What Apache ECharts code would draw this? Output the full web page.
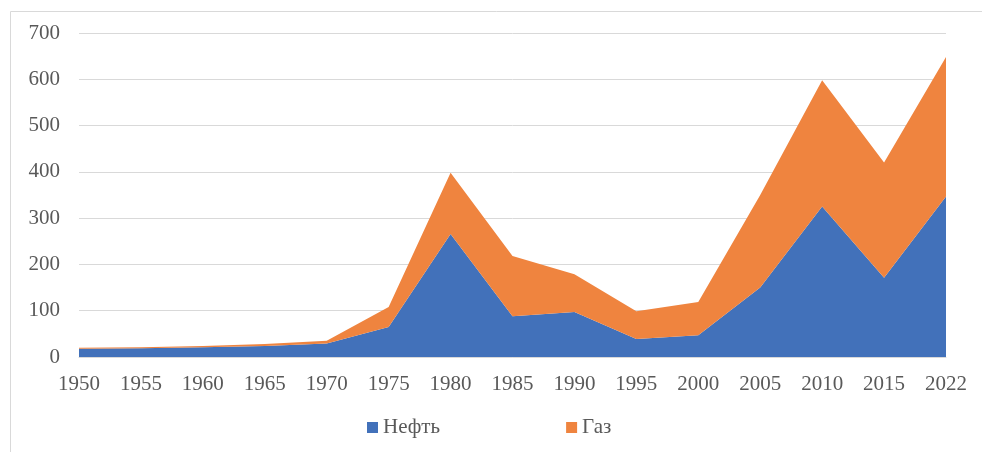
<!DOCTYPE html>
<html>
    <head>
        <meta charset="utf-8">
        <script src="https://cdn.jsdelivr.net/npm/echarts@6/dist/echarts.min.js"></script>
    </head>
    <body style="margin: 0">
        <div id="main" style="width: 982px; height: 452px"></div>
        <script>
            var years = ['1950', '1955', '1960', '1965', '1970', '1975', '1980', '1985',
                         '1990', '1995', '2000', '2005', '2010', '2015', '2022'];
            var oil = [18, 19, 21, 24, 29, 65, 266, 88, 97, 39, 47, 150, 325, 171, 347];
            var gas = [2, 2, 3, 4, 6, 43, 132, 130, 82, 60, 72, 200, 273, 249, 301];

            var font = '"Liberation Serif", "Times New Roman", serif';
            var myChart = echarts.init(document.getElementById('main'));

            var option = {
                animation: false,
                textStyle: { fontFamily: font },
                graphic: [{
                    type: 'rect',
                    shape: { x: 10.5, y: 11.5, width: 1000, height: 500 },
                    style: { fill: 'none', stroke: '#d9d9d9', lineWidth: 1 }
                }],
                grid: { left: 79, right: 36, top: 33, bottom: 95 },
                legend: {
                    left: 362,
                    top: 412,
                    icon: 'rect',
                    itemWidth: 11,
                    itemHeight: 11,
                    itemGap: 126,
                    textStyle: { fontFamily: font, fontSize: 21, color: '#595959' },
                    data: ['Нефть', 'Газ']
                },
                xAxis: {
                    type: 'category',
                    boundaryGap: false,
                    data: years,
                    axisLine: { lineStyle: { color: '#d9d9d9' } },
                    axisTick: { show: false },
                    axisLabel: { fontFamily: font, fontSize: 21, color: '#595959', margin: 17 }
                },
                yAxis: {
                    type: 'value',
                    min: 0,
                    max: 700,
                    interval: 100,
                    axisLine: { show: false },
                    axisTick: { show: false },
                    splitLine: { lineStyle: { color: '#d9d9d9' } },
                    axisLabel: { fontFamily: font, fontSize: 21, color: '#595959', margin: 19 }
                },
                series: [
                    {
                        name: 'Нефть',
                        type: 'line',
                        stack: 'total',
                        data: oil,
                        symbol: 'none',
                        lineStyle: { width: 0 },
                        areaStyle: { color: '#4271BA', opacity: 1 },
                        itemStyle: { color: '#4271BA' }
                    },
                    {
                        name: 'Газ',
                        type: 'line',
                        stack: 'total',
                        data: gas,
                        symbol: 'none',
                        lineStyle: { width: 0 },
                        areaStyle: { color: '#EF843F', opacity: 1 },
                        itemStyle: { color: '#EF843F' }
                    }
                ]
            };

            myChart.setOption(option);
        </script>
    </body>
</html>
